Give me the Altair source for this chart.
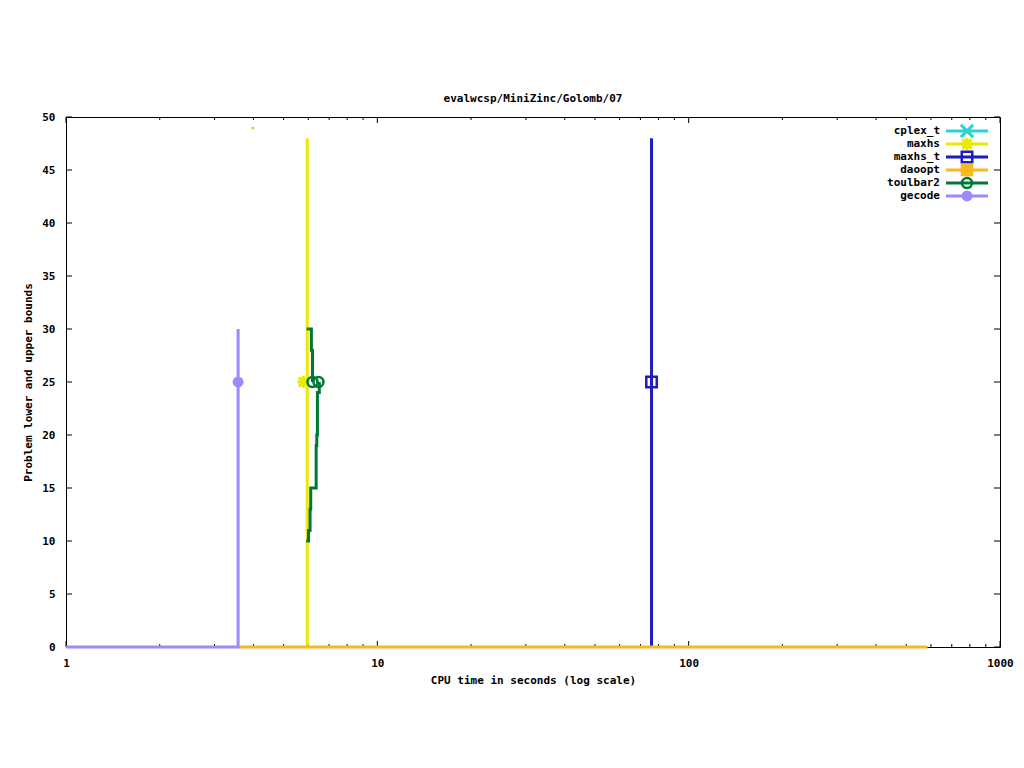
import altair as alt
import pandas as pd

# ---------------- data ----------------
series_names = ["cplex_t", "maxhs", "maxhs_t", "daoopt", "toulbar2", "gecode"]
series_colors = ["#2ad4d4", "#eaea00", "#1c1cc0", "#f8b820", "#007838", "#a088ff"]

gecode_t = [1.0, 3.571, 3.571]
gecode_v = [0, 0, 30]
gecode_pt_t = [3.571]
gecode_pt_v = [25]

maxhs_t_vals = [5.955, 5.955]
maxhs_v_vals = [0, 48]
maxhs_pt_t = [5.79]
maxhs_pt_v = [25]

maxhst_t_vals = [75.98, 75.98]
maxhst_v_vals = [0, 48]
maxhst_pt_t = [75.98]
maxhst_pt_v = [25]

daoopt_t_vals = [3.6, 584.8]
daoopt_v_vals = [0, 0]
daoopt_dot_t = [3.98]
daoopt_dot_v = [48.95]

tb2_upper_t = [5.93, 6.14, 6.14, 6.19, 6.19]
tb2_upper_v = [30, 30, 28, 28, 25]
tb2_lower_t = [5.91, 6.01, 6.01, 6.08, 6.08, 6.11, 6.11, 6.36, 6.36, 6.39, 6.39, 6.42, 6.42, 6.51, 6.51]
tb2_lower_v = [10, 10, 11, 11, 13, 13, 15, 15, 19, 19, 20, 20, 24, 24, 25]
tb2_pt_t = [6.19, 6.47]
tb2_pt_v = [25, 25]

x_major = [1, 10, 100, 1000]
x_minor = [2, 3, 4, 5, 6, 7, 8, 9, 20, 30, 40, 50, 60, 70, 80, 90, 200, 300, 400, 500, 600, 700, 800, 900]
y_ticks = [0, 5, 10, 15, 20, 25, 30, 35, 40, 45, 50]

# ---------------- layout ----------------
W, H = 934, 530
FONT = "DejaVu Sans Mono"
col = dict(zip(series_names, series_colors))

xs = alt.Scale(type="log", domain=[1, 1000], nice=False)
ys = alt.Scale(domain=[0, 50], nice=False, zero=False)

X_AXIS = alt.Axis(values=x_major, format="d", ticks=False, domain=False, grid=False,
                  labelPadding=10, titlePadding=6, labelFontWeight="bold",
                  titleFontWeight="bold", labelFlush=False, labelOverlap=False)
Y_AXIS = alt.Axis(values=y_ticks, ticks=False, domain=False, grid=False,
                  labelPadding=11, titlePadding=8, labelFontWeight="bold",
                  titleFontWeight="bold", labelFlush=False, labelOverlap=False)
X_TITLE = "CPU time in seconds (log scale)"
Y_TITLE = "Problem lower and upper bounds"

def X(field="t"):
    return alt.X(f"{field}:Q", scale=xs, axis=X_AXIS, title=X_TITLE)

def Y(field="v"):
    return alt.Y(f"{field}:Q", scale=ys, axis=Y_AXIS, title=Y_TITLE)

def rt(px_from_right):
    # legend x position measured in pixels from the plot's right edge
    return 10 ** ((W - px_from_right) * 3.0 / W)

def py2v(py):
    return (647 - py) * 50.0 / H

X_SHAPE = "M-1,-1L1,1M-1,1L1,-1"
STAR_SHAPE = "M-1,0L1,0M0,-1L0,1M-0.75,-0.75L0.75,0.75M-0.75,0.75L0.75,-0.75"
marker_style = {
    "cplex_t": dict(shape=X_SHAPE, filled=False, size=150, strokeWidth=3),
    "maxhs": dict(shape=STAR_SHAPE, filled=False, size=150, strokeWidth=3),
    "maxhs_t": dict(shape="square", filled=False, size=110, strokeWidth=2.5),
    "daoopt": dict(shape="square", filled=True, size=160, strokeWidth=0),
    "toulbar2": dict(shape="circle", filled=False, size=100, strokeWidth=2.5),
    "gecode": dict(shape="circle", filled=True, size=120, strokeWidth=0),
}

def line_layer(name, paths):
    rows = []
    for pid, (ts, vs) in enumerate(paths):
        for i, (t, v) in enumerate(zip(ts, vs)):
            rows.append({"t": t, "v": v, "path": pid, "i": i})
    return alt.Chart(pd.DataFrame(rows)).mark_line(strokeWidth=3, strokeCap="butt").encode(
        x=X(), y=Y(), detail="path:N", order="i:Q", color=alt.value(col[name]),
    )

def point_layer(name, ts, vs):
    st = marker_style[name]
    kw = dict(shape=st["shape"], filled=st["filled"], size=st["size"], opacity=1)
    if st["filled"]:
        kw["fill"] = col[name]
        kw["strokeWidth"] = 0
    else:
        kw["stroke"] = col[name]
        kw["strokeWidth"] = st["strokeWidth"]
    return alt.Chart(pd.DataFrame({"t": ts, "v": vs})).mark_point(**kw).encode(x=X(), y=Y())

# inward ticks (gnuplot style)
xmaj = pd.DataFrame({"t": x_major})
xmin = pd.DataFrame({"t": x_minor})
ytk = pd.DataFrame({"v": y_ticks})
tick_layers = [
    alt.Chart(xmaj).mark_rule(color="black", strokeWidth=1).encode(
        x=X(), y=alt.value(H), y2=alt.value(H - 6)),
    alt.Chart(xmaj).mark_rule(color="black", strokeWidth=1).encode(
        x=X(), y=alt.value(0), y2=alt.value(6)),
    alt.Chart(xmin).mark_rule(color="black", strokeWidth=1).encode(
        x=X(), y=alt.value(H), y2=alt.value(H - 3)),
    alt.Chart(xmin).mark_rule(color="black", strokeWidth=1).encode(
        x=X(), y=alt.value(0), y2=alt.value(3)),
    alt.Chart(ytk).mark_rule(color="black", strokeWidth=1).encode(
        y=Y(), x=alt.value(0), x2=alt.value(6)),
    alt.Chart(ytk).mark_rule(color="black", strokeWidth=1).encode(
        y=Y(), x=alt.value(W), x2=alt.value(W - 6)),
]

data_layers = [
    line_layer("maxhs", [(maxhs_t_vals, maxhs_v_vals)]),
    point_layer("maxhs", maxhs_pt_t, maxhs_pt_v),
    line_layer("maxhs_t", [(maxhst_t_vals, maxhst_v_vals)]),
    point_layer("maxhs_t", maxhst_pt_t, maxhst_pt_v),
    line_layer("daoopt", [(daoopt_t_vals, daoopt_v_vals)]),
    alt.Chart(pd.DataFrame({"t": daoopt_dot_t, "v": daoopt_dot_v})).mark_point(
        shape="square", filled=True, size=6, fill=col["daoopt"], strokeWidth=0, opacity=1).encode(
        x=X(), y=Y()),
    line_layer("toulbar2", [(tb2_upper_t, tb2_upper_v), (tb2_lower_t, tb2_lower_v)]),
    point_layer("toulbar2", tb2_pt_t, tb2_pt_v),
    line_layer("gecode", [(gecode_t, gecode_v)]),
    point_layer("gecode", gecode_pt_t, gecode_pt_v),
]

# legend (gnuplot style: label, then line sample with marker)
legend_layers = []
for k, name in enumerate(series_names):
    yv = py2v(131 + 13 * k)
    legend_layers.append(
        alt.Chart(pd.DataFrame({"t": [rt(60)], "v": [yv], "label": [name]})).mark_text(
            align="right", baseline="middle", font=FONT, fontSize=11, fontWeight="bold",
            color="black").encode(x=X(), y=Y(), text="label:N"))
    legend_layers.append(
        alt.Chart(pd.DataFrame({"t": [rt(54)], "t2": [rt(12)], "v": [yv]})).mark_rule(
            strokeWidth=3, color=col[name]).encode(x=X(), x2="t2:Q", y=Y()))
    legend_layers.append(point_layer(name, [rt(33)], [yv]))

chart = alt.layer(*tick_layers, *data_layers, *legend_layers).properties(
    width=W, height=H,
    background="white",
    title=alt.TitleParams("evalwcsp/MiniZinc/Golomb/07", font=FONT, fontSize=11,
                          fontWeight="bold", anchor="middle", baseline="alphabetic",
                          frame="group", offset=17, dy=19, color="black"),
    autosize=alt.AutoSizeParams(type="none"),
    padding={"left": 58, "top": 109, "right": 16, "bottom": 105},
).configure_view(stroke="black", strokeWidth=1).configure_axis(
    labelFont=FONT, titleFont=FONT, labelFontSize=11, titleFontSize=11,
    labelColor="black", titleColor="black",
)

chart.save("out.html", embed_options={"renderer": "svg", "actions": False})
